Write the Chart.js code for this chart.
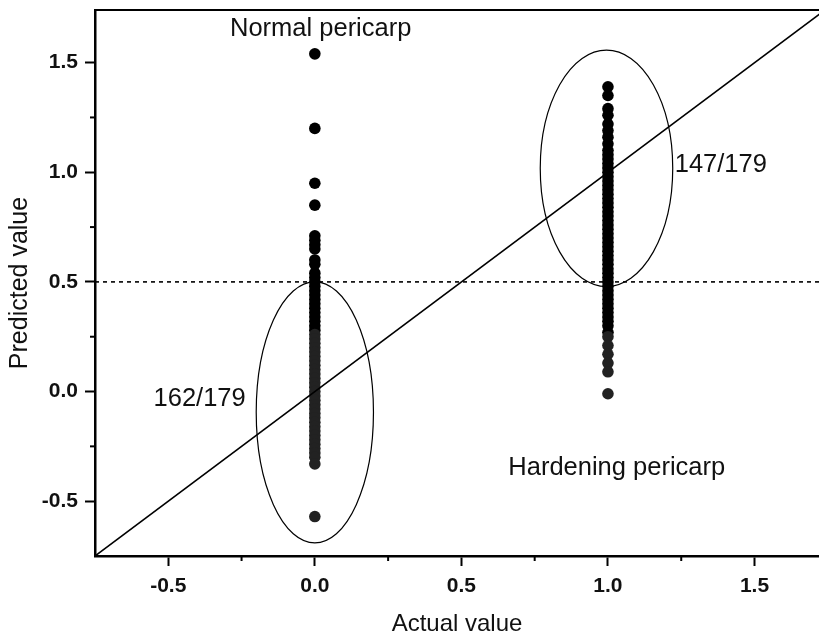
<!DOCTYPE html>
<html>
<head>
<meta charset="utf-8">
<script src="https://cdn.jsdelivr.net/npm/chart.js@4.4.0/dist/chart.umd.min.js"></script>
<style>
  html, body { margin: 0; padding: 0; background: #fff; }
  #plot { display: block; }
</style>
</head>
<body>
<canvas id="plot" width="819" height="637"></canvas>
<script>
// axis ticks
const xTicks = [-0.5, 0.0, 0.5, 1.0, 1.5];
const yTicks = [-0.5, 0.0, 0.5, 1.0, 1.5];
const minorTicks = [-0.25, 0.25, 0.75, 1.25];

// actual class value and predicted values per sample
const normalActual = 0;
const normalPredicted = [
  1.54, 1.20, 0.95, 0.85,
  0.71, 0.69, 0.67, 0.65, 0.60, 0.58, 0.54, 0.52, 0.50, 0.48, 0.46, 0.44,
  0.42, 0.40, 0.38, 0.36, 0.34, 0.32, 0.30, 0.28, 0.26, 0.24, 0.22, 0.20,
  0.18, 0.16, 0.14, 0.12, 0.10, 0.08, 0.06, 0.04, 0.02, 0.00, -0.02, -0.04,
  -0.06, -0.08, -0.10, -0.12, -0.14, -0.16, -0.18, -0.20, -0.22, -0.24,
  -0.26, -0.28, -0.30, -0.33, -0.57
];
const hardActual = 1;
const hardPredicted = [
  1.39, 1.35, 1.29, 1.26, 1.22, 1.19, 1.16, 1.13, 1.10, 1.08, 1.06, 1.04,
  1.02, 1.00, 0.98, 0.96, 0.94, 0.92, 0.90, 0.88, 0.86, 0.84, 0.82, 0.80,
  0.78, 0.76, 0.74, 0.72, 0.70, 0.68, 0.66, 0.64, 0.62, 0.60, 0.58, 0.56,
  0.54, 0.52, 0.50, 0.48, 0.46, 0.44, 0.42, 0.40, 0.38, 0.36, 0.34, 0.32,
  0.30, 0.27, 0.25, 0.21, 0.17, 0.13, 0.09, -0.01
];

const cutoff = 0.5;
const idealX = [-0.75, 1.75];
const idealY = [-0.75, 1.75];

const classNames = ['Normal pericarp', 'Hardening pericarp'];
const correctCounts = ['162/179', '147/179'];

const FONT = '"Liberation Sans", Arial, sans-serif';

const points = (x, ys) => ys.map(y => ({ x: x, y: y }));
const dotColor = ctx => (ctx.raw && ctx.raw.y < 0.27) ? '#222' : '#000';

// ellipses, labels, minor ticks and the top frame
const extras = {
  id: 'extras',
  afterDatasetsDraw(chart) {
    const { ctx, chartArea: a, scales: { x, y } } = chart;
    ctx.save();
    ctx.strokeStyle = '#000';

    // group ellipses
    ctx.lineWidth = 1.2;
    [[0.0, -0.095, 0.2, 0.595], [0.995, 1.018, 0.226, 0.539]].forEach(([cx, cy, rx, ry]) => {
      const px = x.getPixelForValue(cx), py = y.getPixelForValue(cy);
      ctx.beginPath();
      ctx.ellipse(px, py,
        Math.abs(x.getPixelForValue(cx + rx) - px),
        Math.abs(y.getPixelForValue(cy + ry) - py), 0, 0, Math.PI * 2);
      ctx.stroke();
    });

    // top frame line
    ctx.lineWidth = 2;
    ctx.beginPath();
    ctx.moveTo(a.left, a.top);
    ctx.lineTo(a.right, a.top);
    ctx.stroke();

    // minor ticks
    ctx.lineWidth = 2;
    minorTicks.forEach(v => {
      const px = x.getPixelForValue(v);
      ctx.beginPath();
      ctx.moveTo(px, a.bottom);
      ctx.lineTo(px, a.bottom + 5);
      ctx.stroke();
      const py = y.getPixelForValue(v);
      ctx.beginPath();
      ctx.moveTo(a.left, py);
      ctx.lineTo(a.left - 5, py);
      ctx.stroke();
    });

    // text labels
    ctx.fillStyle = '#111';
    ctx.font = '25.5px ' + FONT;
    ctx.textAlign = 'center';
    ctx.textBaseline = 'alphabetic';
    ctx.fillText(classNames[0], x.getPixelForValue(0.02), y.getPixelForValue(1.62));
    ctx.fillText(classNames[1], x.getPixelForValue(1.03), y.getPixelForValue(-0.379));
    ctx.fillText(correctCounts[0], x.getPixelForValue(-0.393), y.getPixelForValue(-0.064));
    ctx.fillText(correctCounts[1], x.getPixelForValue(1.385), y.getPixelForValue(1.0));
    ctx.restore();
  }
};

const noEdgePadding = s => { s.paddingLeft = 0; s.paddingRight = 0; s.paddingTop = 0; s.paddingBottom = 0; };

new Chart(document.getElementById('plot'), {
  type: 'scatter',
  data: {
    datasets: [
      {
        label: 'y = x',
        data: idealX.map((v, i) => ({ x: v, y: idealY[i] })),
        showLine: true,
        borderColor: '#000',
        borderWidth: 1.6,
        pointRadius: 0
      },
      {
        label: 'cutoff',
        data: [{ x: -0.75, y: cutoff }, { x: 1.75, y: cutoff }],
        showLine: true,
        borderColor: '#000',
        borderWidth: 1.6,
        borderDash: [4, 4],
        pointRadius: 0
      },
      {
        label: classNames[0],
        data: points(normalActual, normalPredicted),
        backgroundColor: dotColor,
        borderWidth: 0,
        pointRadius: 5.8
      },
      {
        label: classNames[1],
        data: points(hardActual, hardPredicted),
        backgroundColor: dotColor,
        borderWidth: 0,
        pointRadius: 5.8
      }
    ]
  },
  options: {
    responsive: false,
    animation: false,
    devicePixelRatio: 1,
    layout: { autoPadding: false, padding: { top: 10, right: 0, left: 0, bottom: 0 } },
    plugins: {
      legend: { display: false },
      tooltip: { enabled: false }
    },
    scales: {
      x: {
        type: 'linear',
        min: -0.75,
        max: 1.72,
        afterBuildTicks: s => { s.ticks = xTicks.map(v => ({ value: v })); },
        afterFit: s => { s.height = 81; noEdgePadding(s); },
        border: { display: true, color: '#000', width: 2.5 },
        grid: { drawOnChartArea: false, drawTicks: true, tickLength: 10, tickWidth: 2, tickColor: '#000' },
        ticks: {
          color: '#111',
          padding: 8,
          maxRotation: 0,
          font: { family: FONT, size: 21, weight: 'bold' },
          callback: v => Number(v).toFixed(1)
        },
        title: {
          display: true,
          text: 'Actual value',
          color: '#111',
          font: { family: FONT, size: 24, lineHeight: 1 },
          padding: { top: 0, bottom: 1 }
        }
      },
      y: {
        type: 'linear',
        min: -0.75,
        max: 1.74,
        afterBuildTicks: s => { s.ticks = yTicks.map(v => ({ value: v })); },
        afterFit: s => { s.width = 95; noEdgePadding(s); },
        border: { display: true, color: '#000', width: 2.5 },
        grid: { drawOnChartArea: false, drawTicks: true, tickLength: 10, tickWidth: 2, tickColor: '#000' },
        ticks: {
          color: '#111',
          padding: 7,
          font: { family: FONT, size: 21, weight: 'bold' },
          callback: v => Number(v).toFixed(1)
        },
        title: {
          display: true,
          text: 'Predicted value',
          color: '#111',
          font: { family: FONT, size: 25, lineHeight: 1 },
          padding: { top: 8, bottom: 0 }
        }
      }
    }
  },
  plugins: [extras]
});
</script>
</body>
</html>
